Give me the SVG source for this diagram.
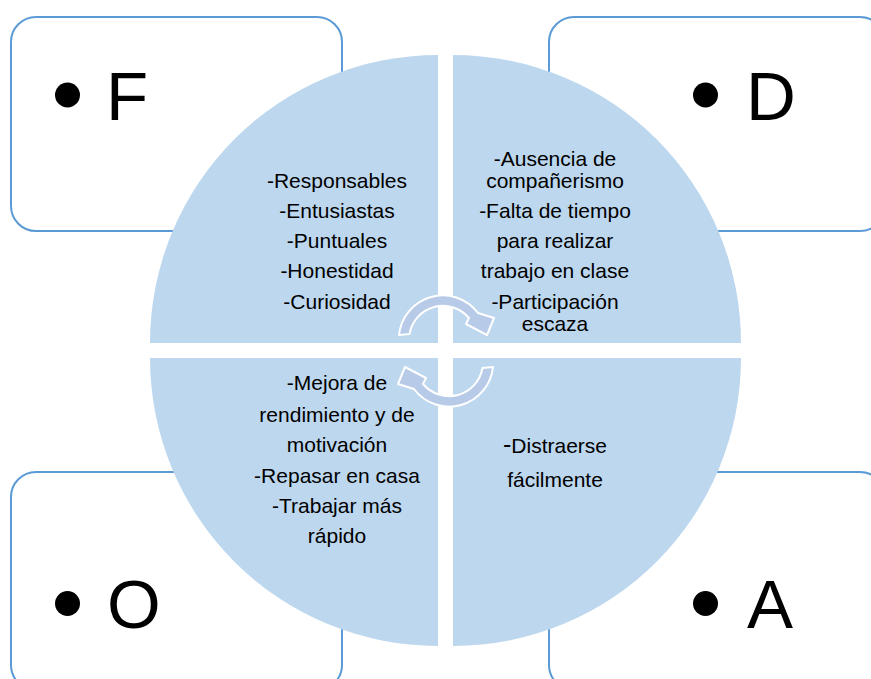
<svg xmlns="http://www.w3.org/2000/svg" width="871" height="679" viewBox="0 0 871 679">
<style>
.box{fill:#fff;stroke:#5B9BD5;stroke-width:2}
.bul{fill:#000}
.big{font-family:"Liberation Sans",Arial,sans-serif;font-size:69px;fill:#000}
.q{fill:#BDD7EE}
.t{font-family:"Liberation Sans",Arial,sans-serif;font-size:21px;fill:#000;text-anchor:middle}
.arr{fill:#B7CBE8;stroke:#fff;stroke-width:2;stroke-linejoin:round}
</style>
<rect width="871" height="679" fill="#fff"/>
<g id="box-F"><rect class="box" x="11" y="17" width="331" height="214" rx="25"/><circle class="bul" cx="67.5" cy="95" r="12.5"/><text class="big" x="106" y="120">F</text></g>
<g id="box-D"><rect class="box" x="549" y="17" width="336" height="214" rx="25"/><circle class="bul" cx="705.5" cy="95" r="12.5"/><text class="big" x="746" y="120">D</text></g>
<g id="box-O"><rect class="box" x="11" y="472" width="331" height="218" rx="25"/><circle class="bul" cx="67.5" cy="603.5" r="12.5"/><text class="big" x="107" y="628">O</text></g>
<g id="box-A"><rect class="box" x="549" y="472" width="336" height="218" rx="25"/><circle class="bul" cx="705.5" cy="603.5" r="12.5"/><text class="big" x="747" y="628">A</text></g>
<g id="q-fortalezas"><path class="q" d="M438,343 L150,343 A288,288 0 0 1 438,55 Z"/>
<text class="t"><tspan x="337" y="188">-Responsables</tspan><tspan x="337" y="218">-Entusiastas</tspan><tspan x="337" y="248">-Puntuales</tspan><tspan x="337" y="278">-Honestidad</tspan><tspan x="337" y="309">-Curiosidad</tspan></text></g>
<g id="q-debilidades"><path class="q" d="M453,343 L453,55 A288,288 0 0 1 741,343 Z"/>
<text class="t"><tspan x="555" y="166">-Ausencia de</tspan><tspan x="555" y="188">compañerismo</tspan><tspan x="555" y="218">-Falta de tiempo</tspan><tspan x="555" y="248">para realizar</tspan><tspan x="555" y="278">trabajo en clase</tspan><tspan x="555" y="309">-Participación</tspan><tspan x="555" y="331">escaza</tspan></text></g>
<g id="q-oportunidades"><path class="q" d="M438,358 L438,646 A288,288 0 0 1 150,358 Z"/>
<text class="t"><tspan x="337" y="390">-Mejora de</tspan><tspan x="337" y="422">rendimiento y de</tspan><tspan x="337" y="452">motivación</tspan><tspan x="337" y="483">-Repasar en casa</tspan><tspan x="337" y="513">-Trabajar más</tspan><tspan x="337" y="543">rápido</tspan></text></g>
<g id="q-amenazas"><path class="q" d="M453,358 L741,358 A288,288 0 0 1 453,646 Z"/>
<text class="t"><tspan x="555" y="453"><tspan font-size="25">-</tspan>Distraerse</tspan><tspan x="555" y="487">fácilmente</tspan></text></g>
<g id="connectors">
<path id="arrow-top" class="arr" d="M399,335 A44,44 0 0 1 478,313 L494,318 L487,335 L466,324 L469,318 A34,34 0 0 0 409.5,334 Z"/>
<path id="arrow-bottom" class="arr" transform="rotate(180 446 351)" d="M399,335 A44,44 0 0 1 478,313 L494,318 L487,335 L466,324 L469,318 A34,34 0 0 0 409.5,334 Z"/>
</g>
</svg>
